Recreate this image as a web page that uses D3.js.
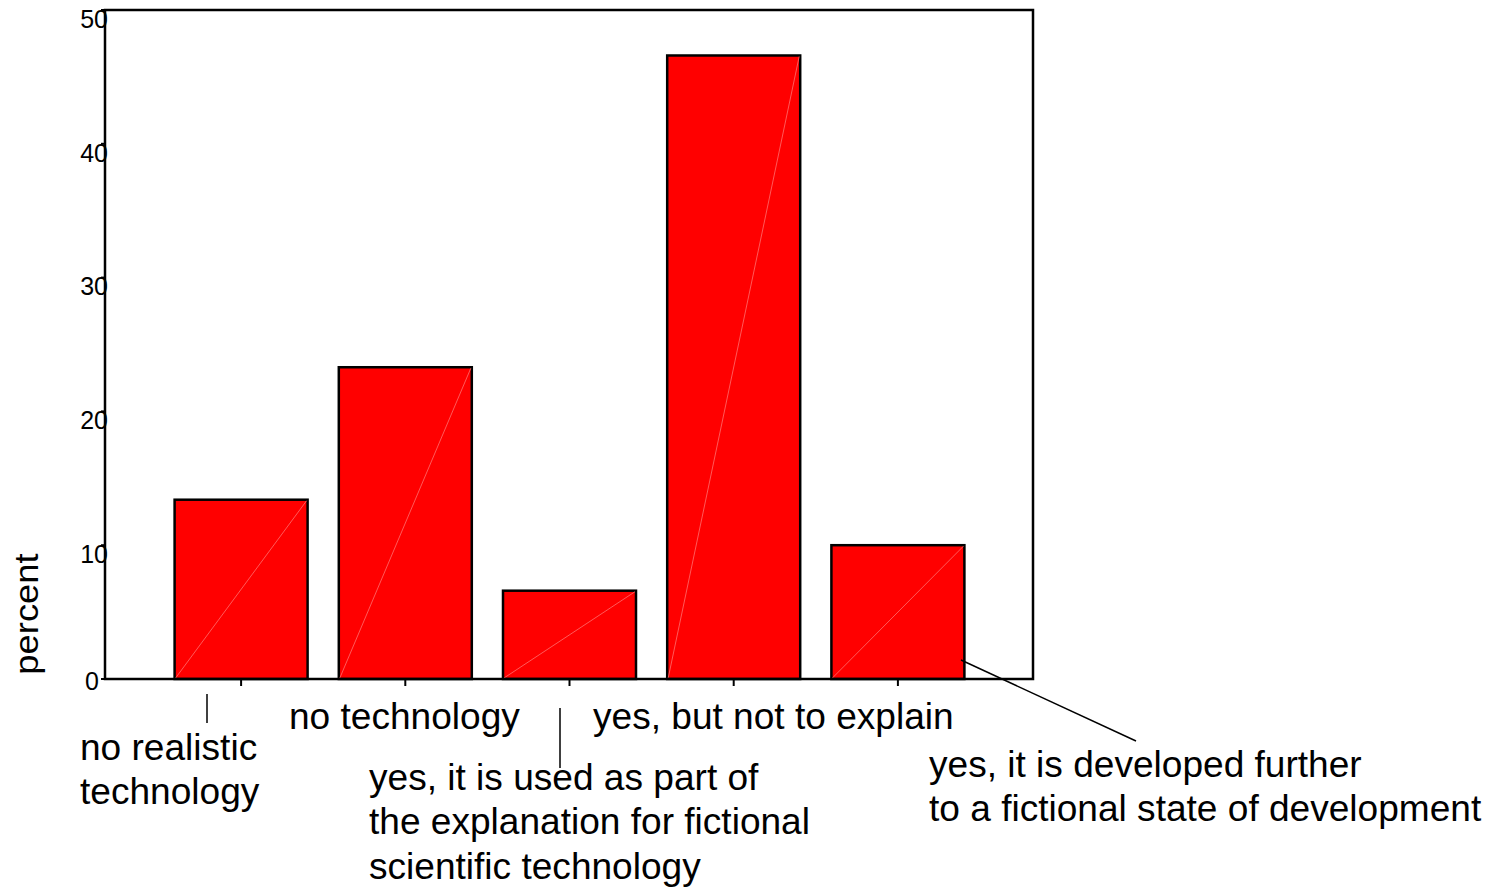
<!DOCTYPE html>
<html>
	<head>
		<title>percent by technology</title>
		<meta charset="utf-8">
	</head>
	<body>
		<svg id="chart" width="1505" height="889"></svg>
	</body>

	<script src="https://cdnjs.cloudflare.com/ajax/libs/d3/7.8.5/d3.min.js"></script>
	<script>
		// categories (label lines) and values
		const categories = [
			["no realistic", "technology"],
			["no technology"],
			["yes, it is used as part of", "the explanation for fictional", "scientific technology"],
			["yes, but not to explain"],
			["yes, it is developed further", "to a fictional state of development"]
		];
		const percents = [13.4, 23.3, 6.6, 46.6, 10.0];
		const yTicks = [0, 10, 20, 30, 40, 50];

		// where each category label sits, and its leader line (if any)
		const labelLayout = [
			{x: 80, y: 760, leader: [207, 694, 207, 723]},
			{x: 289, y: 729, leader: null},
			{x: 369, y: 790, leader: [560, 708, 560, 768]},
			{x: 593, y: 729, leader: null},
			{x: 929, y: 777, leader: [961, 660, 1136, 741]}
		];

		const frame = {left: 105, top: 10, right: 1033, bottom: 679};
		const stretch = 1.03;
		const lineGap = 44.5;

		const svg = d3.select("#chart");

		const x = d3.scaleBand()
			.domain(d3.range(categories.length))
			.range([159, 980])
			.paddingInner(0.19)
			.paddingOuter(0.095);

		const y = d3.scaleLinear()
			.domain([0, 50])
			.range([frame.bottom, frame.top]);

		// y tick labels (drawn first so the axis line sits over them)
		svg.append("g").selectAll("text")
			.data(yTicks)
			.enter().append("text")
				.attr("class", "ytick")
				.attr("x", d => d === 0 ? 99 : 108)
				.attr("y", d => Math.min(y(d) + 9, 681))
				.attr("dy", "0.35em")
				.attr("text-anchor", "end")
				.text(d => d);

		// small y ticks
		svg.append("g").selectAll("line")
			.data(yTicks)
			.enter().append("line")
				.attr("x1", frame.left - 4)
				.attr("x2", frame.left)
				.attr("y1", d => y(d))
				.attr("y2", d => y(d))
				.attr("stroke", "#000")
				.attr("stroke-width", 2);

		// bars
		const bars = svg.append("g").selectAll("g")
			.data(percents)
			.enter().append("g");

		bars.append("rect")
			.attr("x", (d, i) => x(i))
			.attr("y", d => y(d))
			.attr("width", x.bandwidth())
			.attr("height", d => y(0) - y(d))
			.attr("fill", "#ff0000")
			.attr("stroke", "#000")
			.attr("stroke-width", 2.5);

		// faint diagonal seam inside every bar
		bars.append("line")
			.attr("x1", (d, i) => x(i) + 1)
			.attr("y1", y(0) - 1)
			.attr("x2", (d, i) => x(i) + x.bandwidth() - 1)
			.attr("y2", d => y(d) + 1)
			.attr("stroke", "#ff7070")
			.attr("stroke-width", 0.8);

		// frame
		svg.append("rect")
			.attr("x", frame.left)
			.attr("y", frame.top)
			.attr("width", frame.right - frame.left)
			.attr("height", frame.bottom - frame.top)
			.attr("fill", "none")
			.attr("stroke", "#000")
			.attr("stroke-width", 2.5);

		// x ticks at band centres
		svg.append("g").selectAll("line")
			.data(percents)
			.enter().append("line")
				.attr("x1", (d, i) => x(i) + x.bandwidth() / 2)
				.attr("x2", (d, i) => x(i) + x.bandwidth() / 2)
				.attr("y1", frame.bottom)
				.attr("y2", frame.bottom + 7)
				.attr("stroke", "#000")
				.attr("stroke-width", 2);

		// category labels
		const labels = svg.append("g").selectAll("text")
			.data(categories)
			.enter().append("text")
				.attr("class", "cat")
				.attr("transform", (d, i) => `translate(${labelLayout[i].x},${labelLayout[i].y}) scale(${stretch},1)`);

		labels.selectAll("tspan")
			.data(d => d)
			.enter().append("tspan")
				.attr("x", 0)
				.attr("y", (d, j) => j * lineGap)
				.text(d => d);

		// leader lines
		svg.append("g").selectAll("line")
			.data(labelLayout.filter(l => l.leader))
			.enter().append("line")
				.attr("x1", l => l.leader[0])
				.attr("y1", l => l.leader[1])
				.attr("x2", l => l.leader[2])
				.attr("y2", l => l.leader[3])
				.attr("stroke", "#000")
				.attr("stroke-width", 1.5);

		// y axis title
		svg.append("text")
			.attr("class", "ytitle")
			.attr("transform", `translate(38,614) rotate(-90) scale(1.07,1)`)
			.attr("text-anchor", "middle")
			.text("percent");
	</script>

	<style>
		html, body
		{
			margin: 0;
			background: #fff;
		}

		text
		{
			font-family: Arial, "Liberation Sans", sans-serif;
			fill: #000;
		}

		.ytick
		{
			font-size: 25px;
		}

		.cat
		{
			font-size: 36px;
		}

		.ytitle
		{
			font-size: 34px;
		}
	</style>
</html>
